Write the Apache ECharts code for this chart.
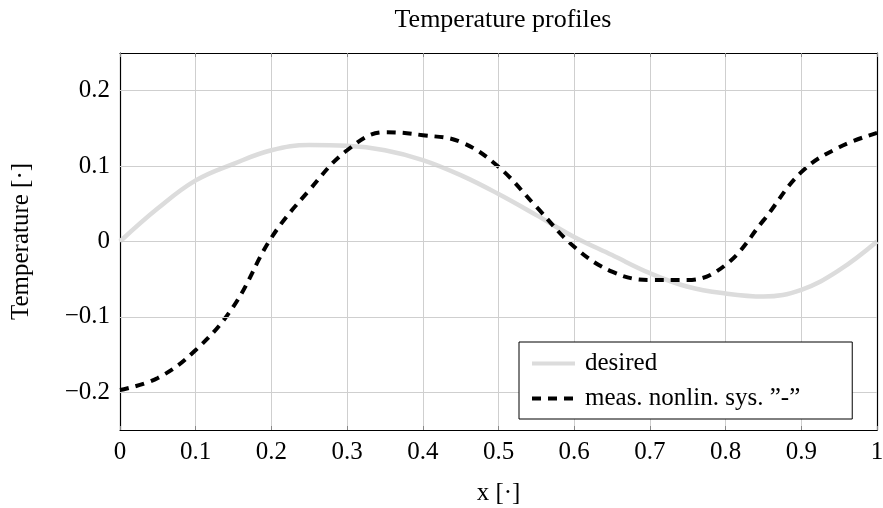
<!DOCTYPE html>
<html>
<head>
<meta charset="utf-8">
<script src="https://cdn.jsdelivr.net/npm/echarts@6/dist/echarts.min.js"></script>
<style>html,body{margin:0;padding:0;background:#fff;}#c{width:883px;height:508px;}</style>
</head>
<body>
<div id="c"></div>
<script>
var xs = [0,0.05,0.1,0.15,0.2,0.25,0.3,0.35,0.4,0.45,0.5,0.55,0.6,0.65,0.7,0.75,0.8,0.85,0.9,0.95,1];
var desired = [0,0.044,0.081,0.103,0.121,0.128,0.127,0.121,0.108,0.088,0.063,0.035,0.006,-0.018,-0.042,-0.060,-0.069,-0.073,-0.064,-0.038,0];
var measured = [-0.197,-0.181,-0.144,-0.086,0.005,0.068,0.121,0.145,0.141,0.132,0.099,0.046,-0.007,-0.040,-0.051,-0.051,-0.031,0.028,0.092,0.125,0.144];
var xTicks = [0,0.1,0.2,0.3,0.4,0.5,0.6,0.7,0.8,0.9,1];
var yTicks = [-0.2,-0.1,0,0.1,0.2];
var seriesNames = ['desired', 'meas. nonlin. sys. \u201d-\u201d'];

var FONT = '"Liberation Serif", "DejaVu Serif", serif';
var FS = 25;
function fmt(v){
  var s = (Math.round(v*10)/10).toString();
  if (s.charAt(0) === '-') s = '\u2212' + s.slice(1);
  return s;
}
function pairs(a){ return xs.map(function(x,i){ return [x, a[i]]; }); }

var chart = echarts.init(document.getElementById('c'), null, {renderer:'canvas'});
var tickLine = {color:'#888', width:1};
chart.setOption({
  animation:false,
  backgroundColor:'#fff',
  title:{text:'Temperature profiles', left:498, top:2, textAlign:'center',
    textStyle:{fontFamily:FONT, fontSize:26, fontWeight:'normal', color:'#000'}},
  grid:{left:120, right:6, top:53, bottom:78, containLabel:false, outerBoundsMode:'none'},
  legend:{
    left:519, top:342, orient:'vertical', z:20,
    backgroundColor:'#fff', borderColor:'#000', borderWidth:1, borderRadius:0,
    padding:[9,52,8,11], itemGap:10, itemWidth:43, itemHeight:14,
    itemStyle:{opacity:0, borderWidth:0},
    lineStyle:{width:4},
    textStyle:{fontFamily:FONT, fontSize:FS, color:'#000', padding:[0,0,0,5]},
    data: seriesNames
  },
  xAxis:[{
    type:'value', min:0, max:1, interval:0.1,
    name:'x [\u00b7]', nameLocation:'middle', nameGap:51,
    nameTextStyle:{fontFamily:FONT, fontSize:FS, color:'#000'},
    axisLine:{show:true, onZero:false, lineStyle:{color:'#000', width:1.2}},
    axisTick:{show:true, inside:true, length:4, lineStyle:tickLine},
    axisLabel:{fontFamily:FONT, fontSize:FS, color:'#000', margin:10,
      formatter:function(v){ return fmt(v); }},
    splitLine:{show:true, lineStyle:{color:'#cfcfcf', width:1}}
  },{
    type:'value', min:0, max:1, interval:0.1, position:'top',
    axisLine:{show:true, onZero:false, lineStyle:{color:'#000', width:1.2}},
    axisTick:{show:true, inside:true, length:4, lineStyle:tickLine},
    axisLabel:{show:false}, splitLine:{show:false}
  }],
  yAxis:[{
    type:'value', min:-0.25, max:0.25,
    name:'Temperature [\u00b7]', nameLocation:'middle', nameGap:86, nameRotate:90,
    nameTextStyle:{fontFamily:FONT, fontSize:FS, color:'#000'},
    axisLine:{show:true, onZero:false, lineStyle:{color:'#000', width:1.2}},
    axisTick:{show:true, inside:true, length:4, customValues:yTicks, lineStyle:tickLine},
    axisLabel:{fontFamily:FONT, fontSize:FS, color:'#000', margin:10,
      customValues: yTicks,
      formatter:function(v){ return fmt(v); }},
    splitLine:{show:false}
  },{
    type:'value', min:-0.25, max:0.25, position:'right',
    axisLine:{show:true, onZero:false, lineStyle:{color:'#000', width:1.2}},
    axisTick:{show:true, inside:true, length:4, customValues:yTicks, lineStyle:tickLine},
    axisLabel:{show:false}, splitLine:{show:false}
  }],
  series:[{
    type:'line', xAxisIndex:0, yAxisIndex:0, data:[], silent:true, z:1,
    markLine:{silent:true, symbol:'none', label:{show:false},
      lineStyle:{color:'#cfcfcf', width:1, type:'solid'},
      data: yTicks.map(function(v){ return {yAxis:v}; })}
  },{
    name:seriesNames[0], type:'line', xAxisIndex:0, yAxisIndex:0,
    data:pairs(desired), smooth:0.4, symbol:'none', z:2,
    lineStyle:{color:'#dcdcdc', width:4.5}, itemStyle:{color:'#dcdcdc'}
  },{
    name:seriesNames[1], type:'line', xAxisIndex:0, yAxisIndex:0,
    data:pairs(measured), smooth:0.4, symbol:'none', z:3,
    lineStyle:{color:'#000', width:4, type:[9,7], cap:'butt'}, itemStyle:{color:'#000'}
  }]
});
</script>
</body>
</html>
